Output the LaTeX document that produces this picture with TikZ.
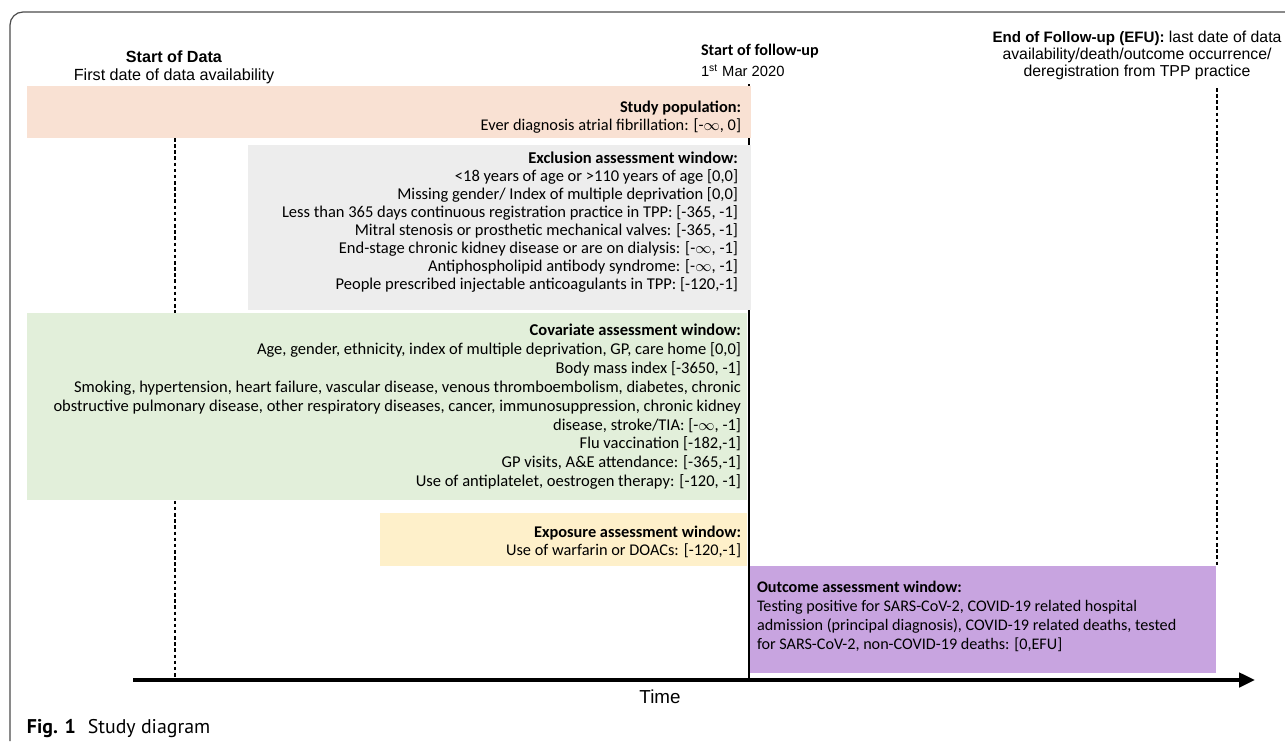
\documentclass[tikz,border=0pt]{standalone}
\usepackage{fontspec}
\setmainfont{Carlito}
\newfontfamily\arialfont{Liberation Sans}
\newfontfamily\capfont{PT Sans}
\usepackage{tikz}
\usetikzlibrary{arrows.meta}
\pgfdeclarelayer{bg}
\pgfsetlayers{bg,main}
\definecolor{popcol}{HTML}{F9E1D3}
\definecolor{exclcol}{HTML}{EDEDED}
\definecolor{covcol}{HTML}{E2EFDA}
\definecolor{expcol}{HTML}{FEF0CA}
\definecolor{outcol}{HTML}{C8A4E0}
\tikzset{
    every node/.style={inner sep=0pt, outer sep=0pt},
    hdr/.style={font=\arialfont\fontsize{9.2}{10.2}\selectfont},
    win/.style={anchor=north east, align=right, font=\fontsize{9.3}{10.2}\selectfont},
    marker/.style={line width=1.4pt},
    dashmark/.style={line width=0.6pt, dash pattern=on 2pt off 1.5pt}
}

\begin{document}
\begin{tikzpicture}[x=0.02cm, y=-0.02cm]
  \useasboundingbox (0,0) rectangle (1285,741);
  \draw[black!70, line width=0.7pt, rounded corners=0.26cm] (10,741) |- (1285,12);

  \node (sod) [hdr, anchor=north, align=center] at (174,51)
    {\textbf{Start of Data}\\First date of data availability};
  \node (sfu) [anchor=north west, align=left] at (701,44)
    {\fontsize{9.2}{10.2}\selectfont\textbf{Start of follow-up}\\
     \arialfont\fontsize{8.4}{10.2}\selectfont 1\textsuperscript{st} Mar 2020};
  \node (efu) [hdr, anchor=north, align=center, font=\arialfont\fontsize{9}{9.6}\selectfont] at (1137,31)
    {{\fontsize{8.6}{9.6}\selectfont\textbf{End of Follow-up (EFU):}} last date of data\\
     availability/death/outcome occurrence/\\deregistration from TPP practice};

  \coordinate (sodtop) at (175,138);
  \coordinate (sodbot) at (175,680);
  \coordinate (sfutop) at (749,84);
  \coordinate (sfubot) at (749,680);
  \coordinate (efutop) at (1217,88);
  \coordinate (efubot) at (1217,566);
  \coordinate (tstart) at (133,680);
  \coordinate (tend) at (1255,680);

  \begin{pgfonlayer}{bg}
    \draw[dashmark] (sodtop) -- (sodbot);
    \draw[dashmark] (efutop) -- (efubot);
    \draw[marker] (sfutop) -- (sfubot);
    \fill[popcol] (27,86) rectangle (751,138);
    \fill[exclcol] (248,145) rectangle (751,310);
    \fill[covcol] (27,313) rectangle (747,500);
    \fill[expcol] (380,513) rectangle (747,566);
    \fill[outcol] (750,566) rectangle (1216,673);
  \end{pgfonlayer}

  \node (pop) [win] at (741,101)
    {\textbf{Study population:}\\Ever diagnosis atrial fibrillation: [-$\infty$, 0]};
  \node (excl) [win, font=\fontsize{9.4}{10.2}\selectfont] at (738,152)
    {\textbf{Exclusion assessment window:}\\
     <18 years of age or >110 years of age [0,0]\\
     Missing gender/ Index of multiple deprivation [0,0]\\
     Less than 365 days continuous registration practice in TPP: [-365, -1]\\
     Mitral stenosis or prosthetic mechanical valves: [-365, -1]\\
     End-stage chronic kidney disease or are on dialysis: [-$\infty$, -1]\\
     Antiphospholipid antibody syndrome: [-$\infty$, -1]\\
     People prescribed injectable anticoagulants in TPP: [-120,-1]};
  \node (cov) [win, font=\fontsize{9.4}{10.75}\selectfont] at (741,324)
    {\textbf{Covariate assessment window:}\\
     Age, gender, ethnicity, index of multiple deprivation, GP, care home [0,0]\\
     Body mass index [-3650, -1]\\
     Smoking, hypertension, heart failure, vascular disease, venous thromboembolism, diabetes, chronic\\
     obstructive pulmonary disease, other respiratory diseases, cancer, immunosuppression, chronic kidney\\
     disease, stroke/TIA: [-$\infty$, -1]\\
     Flu vaccination [-182,-1]\\
     GP visits, A\&E attendance: [-365,-1]\\
     Use of antiplatelet, oestrogen therapy: [-120, -1]};
  \node (exp) [win] at (741,526)
    {\textbf{Exposure assessment window:}\\Use of warfarin or DOACs: [-120,-1]};
  \node (out) [anchor=north west, align=left, font=\fontsize{9.2}{10.8}\selectfont] at (757,581)
    {\textbf{Outcome assessment window:}\\
     Testing positive for SARS-CoV-2, COVID-19 related hospital\\
     admission (principal diagnosis), COVID-19 related deaths, tested\\
     for SARS-CoV-2, non-COVID-19 deaths: [0,EFU]};

  \draw[line width=2.2pt, -{Triangle[length=9pt, width=8pt]}] (tstart) -- (tend);
  \node (time) [font=\arialfont\fontsize{10.7}{12}\selectfont] at (660,697) {Time};
  \node (cap) [anchor=west, font=\capfont\fontsize{11.3}{13}\selectfont] at (27,729)
    {\textbf{Fig. 1}\hspace{0.6em}Study diagram};
\end{tikzpicture}
\end{document}
